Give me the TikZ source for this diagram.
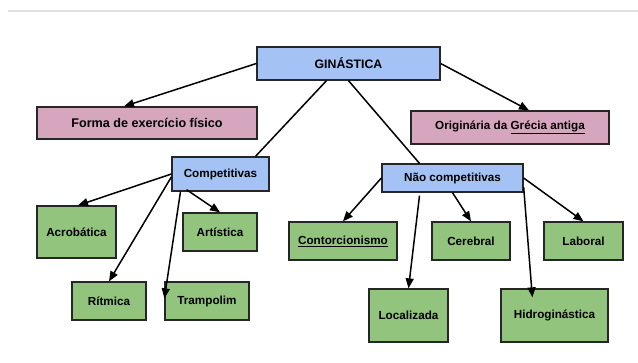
\documentclass[tikz,border=0pt]{standalone}
\usepackage{fontspec}
\setmainfont{Liberation Sans}
\usetikzlibrary{arrows.meta}
\definecolor{azul}{HTML}{A4C2F4}
\definecolor{rosa}{HTML}{D5A6BD}
\definecolor{verde}{HTML}{93C47D}
\tikzset{
  caixa/.style={draw=black!85,line width=1.3pt,inner sep=0pt,align=center,
    font=\fontsize{11.7}{14}\selectfont\bfseries},
  caixaazul/.style={caixa,fill=azul},
  caixarosa/.style={caixa,fill=rosa},
  caixaverde/.style={caixa,fill=verde},
  seta/.style={->,>={Triangle[length=10pt,width=8pt]},line width=1.5pt},
  linha/.style={line width=1.5pt}
}
\begin{document}
\begin{tikzpicture}[x=1pt,y=-1pt]
      \useasboundingbox (0,0) rectangle (638,362);
      \draw[black!12,line width=2pt] (8,11)--(638,11); %topo
      \node[caixaazul,minimum width=183pt,minimum height=33pt,font=\fontsize{12.3}{14}\selectfont\bfseries] (gin) at (348.5,63.5) {GINÁSTICA};
      \node[caixarosa,minimum width=220pt,minimum height=32pt,font=\fontsize{12.6}{14}\selectfont\bfseries] (forma) at (147,123) {Forma de exercício físico};
      \node[caixarosa,minimum width=198pt,minimum height=33pt] (orig) at (510,127.5) {Originária da \underline{Grécia antiga}};
      \node[caixaazul,minimum width=97pt,minimum height=34pt] (comp) at (220.5,174) {Competitivas};
      \node[caixaazul,minimum width=141pt,minimum height=28pt] (nao) at (452.5,178) {Não competitivas};
      % competitivas
      \node[caixaverde,minimum width=79pt,minimum height=52pt] (acro) at (76.5,232) {Acrobática};
      \node[caixaverde,minimum width=74pt,minimum height=38pt] (art) at (220,232) {Artística};
      \node[caixaverde,minimum width=74pt,minimum height=38pt] (rit) at (109,301) {Rítmica};
      \node[caixaverde,minimum width=84pt,minimum height=38pt] (tramp) at (207,301) {Trampolim};
      % nao competitivas
      \node[caixaverde,minimum width=108pt,minimum height=38pt] (cont) at (343,241) {\underline{Contorcionismo}};
      \node[caixaverde,minimum width=78pt,minimum height=38pt] (cer) at (471,241) {Cerebral};
      \node[caixaverde,minimum width=79pt,minimum height=38pt] (lab) at (583.5,241) {Laboral};
      \node[caixaverde,minimum width=79pt,minimum height=53pt] (loc) at (408.5,315.5) {Localizada};
      \node[caixaverde,minimum width=107pt,minimum height=53pt] (hidro) at (554.5,315.5) {Hidroginástica};
      % setas
      \draw[seta] (gin.west)--([xshift=-23pt]forma.north);
      \draw[seta] (gin.east)--([xshift=19pt]orig.north);
      \draw[linha] ([xshift=-22pt]gin.south)--([xshift=35pt]comp.north);
      \draw[linha] (gin.south)--([xshift=-33pt]nao.north);
      \draw[seta] (comp.west)--([xshift=1.5pt]acro.north);
      \draw[seta] ([yshift=-3pt]comp.west)--(rit.north);
      \draw[seta] ([xshift=-40pt]comp.south)--([yshift=-17pt]tramp.north west);
      \draw[seta] ([xshift=-34pt,yshift=2pt]comp.south)--(art.north);
      \draw[seta] (nao.west)--(cont.north);
      \draw[seta] ([xshift=-33pt,yshift=-3pt]nao.south)--(loc.north);
      \draw[seta] (nao.south)--(cer.north);
      \draw[seta] (nao.east)--(lab.north);
      \draw[seta] ([yshift=-9pt]nao.east)--([xshift=32pt,yshift=-9pt]hidro.north west);
\end{tikzpicture}
\end{document}
